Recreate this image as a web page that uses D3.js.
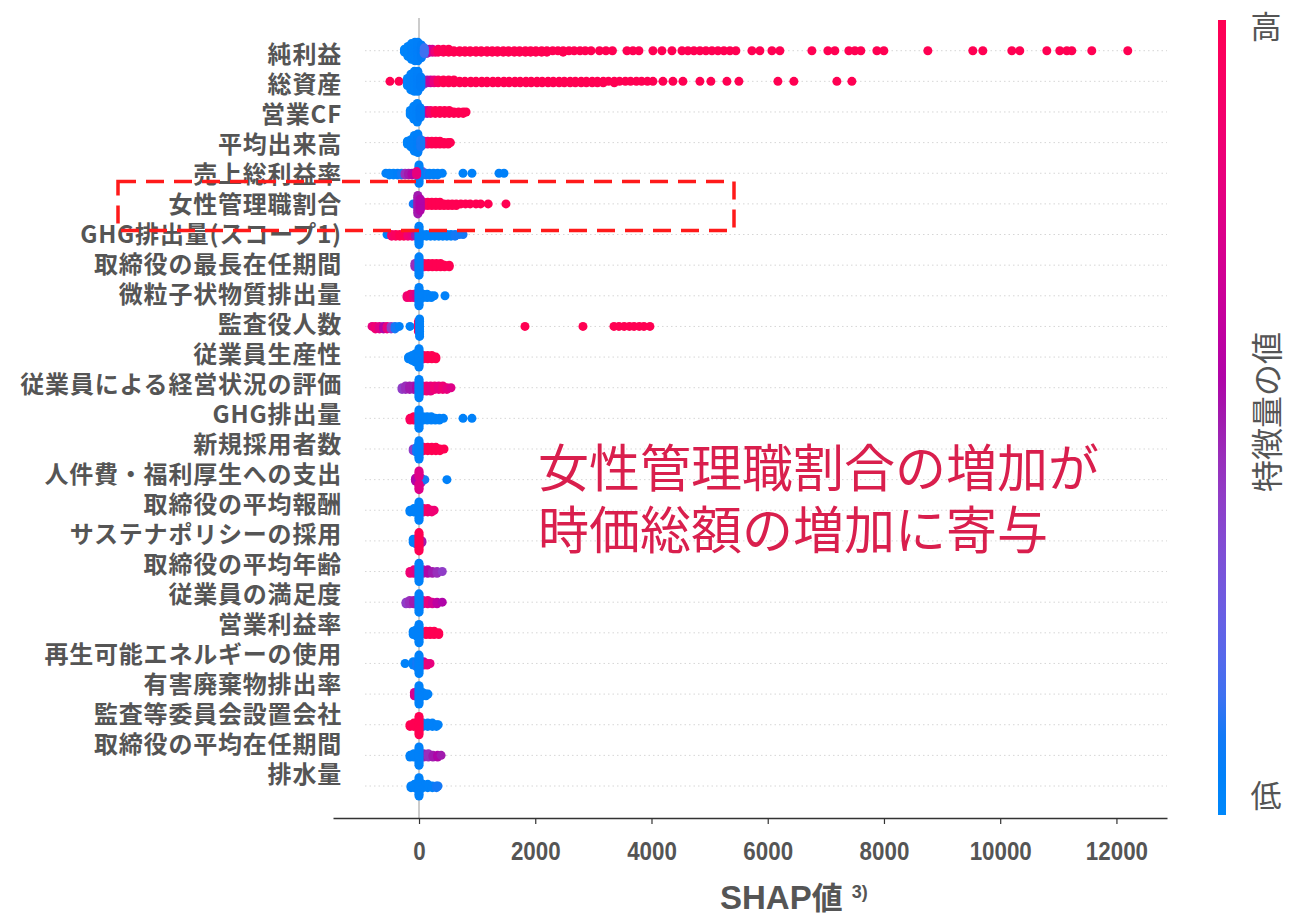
<!DOCTYPE html>
<html>
<head>
<meta charset="utf-8">
<script src="https://cdn.jsdelivr.net/npm/d3@7"></script>
<style>
  body { margin: 0; background: #fff; }
  svg { display: block; }
</style>
</head>
<body>
<svg id="chart" width="1310" height="920"></svg>
<script>
// Feature names, ordered by mean |SHAP| (top to bottom)
const features = [
  "純利益", "総資産", "営業CF", "平均出来高", "売上総利益率", "女性管理職割合",
  "GHG排出量(スコープ1)", "取締役の最長在任期間", "微粒子状物質排出量", "監査役人数",
  "従業員生産性", "従業員による経営状況の評価", "GHG排出量", "新規採用者数",
  "人件費・福利厚生への支出", "取締役の平均報酬", "サステナポリシーの採用",
  "取締役の平均年齢", "従業員の満足度", "営業利益率", "再生可能エネルギーの使用",
  "有害廃棄物排出率", "監査等委員会設置会社", "取締役の平均在任期間", "排水量"
];

const xTicks = [0, 2000, 4000, 6000, 8000, 10000, 12000];

// Observations per feature: [SHAP value, normalised feature value (0 = low, 1 = high), sample count]
const netIncome = [
  [130, 0.4, 4], [180, 0.55, 3], [230, 0.7, 3], [280, 0.85, 2],
  [330, 0.97, 3], [420, 0.98, 3], [510, 1, 3], [600, 1, 2], [700, 1, 2], [790, 1, 2],
  [880, 1, 2], [980, 1, 2], [1070, 1, 2], [1170, 1, 2], [1260, 1, 2], [1350, 1, 2],
  [1450, 1, 2], [1540, 1, 2], [1640, 1, 2], [1730, 1, 2], [1830, 1, 2], [1920, 1, 2],
  [2010, 1, 2], [2110, 1, 2], [2200, 1, 2], [2300, 1, 1], [2390, 1, 1], [2480, 1, 2],
  [2580, 1, 1], [2670, 1, 1], [2770, 1, 1], [2860, 1, 1], [2960, 1, 1],
  [3105, 1], [3216, 1], [3328, 1], [3578, 1], [3681, 1], [3784, 1], [4025, 1], [4180, 1],
  [4352, 1], [4524, 1], [4627, 1], [4730, 1], [4833, 1], [4936, 1], [5040, 1], [5143, 1],
  [5246, 1], [5349, 1], [5452, 1], [5728, 1], [5865, 1], [6072, 1], [6209, 1], [6760, 1],
  [7035, 1], [7155, 1], [7396, 1], [7499, 1], [7602, 1], [7878, 1], [7998, 1], [8755, 1],
  [9529, 1], [9701, 1], [10200, 1], [10337, 1], [10802, 1], [11025, 1], [11146, 1],
  [11232, 1], [11576, 1], [12195, 1],
  [-250, 0.02, 3], [-190, 0.03, 8], [-130, 0.04, 12], [-70, 0.05, 14], [-20, 0.06, 14],
  [40, 0.08, 10], [90, 0.15, 5]
];
const totalAssets = [
  [-500, 1], [-345, 1],
  [80, 0.35, 4], [140, 0.5, 3], [200, 0.65, 3], [260, 0.8, 3],
  [330, 0.95, 3], [420, 1, 3], [510, 1, 3], [600, 1, 3], [700, 1, 2], [790, 1, 2],
  [890, 1, 2], [980, 1, 2], [1080, 1, 2], [1170, 1, 2], [1270, 1, 2], [1360, 1, 2],
  [1460, 1, 2], [1550, 1, 2], [1650, 1, 2], [1740, 1, 2], [1840, 1, 2], [1930, 1, 2],
  [2030, 1, 2], [2120, 1, 2], [2220, 1, 2], [2310, 1, 2], [2410, 1, 2], [2500, 1, 2],
  [2600, 1, 2], [2690, 1, 2], [2790, 1, 2], [2880, 1, 2], [2980, 1, 2], [3070, 1, 2],
  [3170, 1, 2], [3260, 1, 1], [3360, 1, 2], [3450, 1, 1], [3550, 1, 1], [3640, 1, 1],
  [3740, 1, 1], [3830, 1, 1], [3930, 1, 1], [4025, 1, 1],
  [4197, 1], [4369, 1], [4541, 1], [4833, 1], [5022, 1], [5298, 1], [5504, 1],
  [6175, 1], [6450, 1], [7190, 1], [7448, 1],
  [-200, 0.03, 6], [-140, 0.04, 12], [-80, 0.05, 15], [-20, 0.06, 15], [30, 0.08, 8]
];
const operatingCF = [
  [80, 0.45, 3], [140, 0.65, 3], [200, 0.9, 3], [280, 1, 3], [360, 1, 3], [440, 1, 3],
  [520, 1, 3], [600, 1, 2], [680, 1, 2], [760, 1, 2], [810, 1, 1],
  [-150, 0.03, 4], [-90, 0.04, 10], [-30, 0.05, 14], [20, 0.08, 8]
];
const avgVolume = [
  [90, 0.5, 3], [150, 0.85, 3], [220, 1, 3], [290, 1, 3], [360, 1, 3], [430, 1, 2],
  [500, 1, 2], [540, 1, 1],
  [-200, 0.03, 3], [-140, 0.04, 6], [-80, 0.05, 12], [-20, 0.06, 14], [30, 0.1, 6]
];
const grossMargin = [
  [-570, 0.05, 1], [-510, 0.04, 2], [-440, 0.05, 2], [-370, 0.06, 2], [-300, 0.1, 2],
  [-240, 0.45, 2], [-180, 0.5, 2], [-120, 0.55, 2],
  [60, 0.3, 3], [120, 0.1, 2], [180, 0.05, 2], [250, 0.05, 2], [320, 0.05, 2], [400, 0.05, 1],
  [757, 0.05], [911, 0.05], [1376, 0.05], [1462, 0.05],
  [0, 0.05, 12], [-40, 0.8, 3]
];
const womenManagers = [
  [-100, 0.1, 1],
  [80, 0.85, 3], [150, 0.95, 3], [220, 1, 3], [290, 1, 3], [360, 1, 3], [430, 1, 2],
  [500, 1, 2], [570, 1, 2], [640, 1, 2], [720, 1, 1], [800, 1, 1], [880, 1, 1],
  [980, 1], [1060, 1], [1190, 1], [1496, 1],
  [-20, 0.5, 12], [20, 0.55, 8]
];
const ghgScope1 = [
  [-550, 0.05], [-470, 0.9, 2], [-400, 0.95, 2], [-330, 1, 2], [-260, 1, 2], [-190, 0.85, 2],
  [-120, 0.8, 2], [-60, 0.5, 2],
  [60, 0.05, 2], [130, 0.05, 2], [200, 0.05, 2], [270, 0.05, 2], [340, 0.05, 2], [410, 0.05, 2],
  [480, 0.05, 2], [550, 0.05, 2], [620, 0.1, 2], [690, 0.1, 1], [757, 0.1, 1],
  [0, 0.05, 12]
];
const longestTenure = [
  [-70, 0.45, 3],
  [90, 0.9, 3], [160, 1, 3], [230, 1, 3], [300, 1, 3], [370, 1, 3], [440, 1, 2], [520, 1, 2],
  [0, 0.05, 12]
];
const particulates = [
  [-206, 0.85, 2], [-150, 0.9, 3], [-90, 0.8, 3], [-40, 0.7, 3],
  [70, 0.05, 3], [140, 0.05, 3], [210, 0.05, 2], [260, 0.05, 1], [447, 0.05],
  [0, 0.05, 12]
];
const auditors = [
  [-808, 0.8], [-750, 0.85, 2], [-680, 0.75, 2], [-610, 0.55, 2], [-550, 0.8, 2],
  [-480, 0.4, 2], [-413, 0.1, 2], [-340, 0.05, 1], [-155, 0.05, 1],
  [1823, 1], [2821, 1], [3354, 1], [3440, 1], [3530, 1], [3620, 1], [3700, 1], [3790, 1],
  [3870, 1], [3973, 1],
  [-10, 0.9, 5], [10, 0.05, 8]
];
const productivity = [
  [80, 0.9, 3], [150, 1, 3], [220, 1, 3], [290, 1, 2],
  [-180, 0.05, 2], [-120, 0.05, 4], [-60, 0.05, 6], [0, 0.05, 12]
];
const mgmtRating = [
  [-292, 0.4, 2], [-230, 0.45, 3], [-160, 0.5, 3], [-90, 0.5, 3], [-40, 0.55, 3],
  [60, 0.8, 4], [130, 0.85, 4], [200, 0.8, 4], [270, 0.85, 3], [340, 0.8, 3], [410, 0.85, 3],
  [480, 0.8, 2], [550, 0.75, 1],
  [0, 0.05, 12]
];
const ghgTotal = [
  [-155, 0.95, 2], [-90, 1, 3], [-30, 0.9, 3],
  [70, 0.05, 3], [140, 0.05, 3], [210, 0.05, 3], [280, 0.05, 2], [350, 0.05, 2], [420, 0.05, 1],
  [757, 0.05], [911, 0.05],
  [0, 0.05, 12]
];
const newHires = [
  [-100, 0.4, 2],
  [80, 0.9, 3], [150, 1, 3], [220, 1, 3], [290, 1, 3], [360, 1, 2], [430, 1, 1],
  [-40, 0.1, 4], [0, 0.05, 12]
];
const laborCost = [
  [-60, 0.55, 3], [40, 0.45, 4], [100, 0.1, 1], [480, 0.05, 1],
  [0, 0.75, 10]
];
const directorPay = [
  [80, 0.85, 3], [150, 0.9, 3], [220, 0.85, 2], [260, 0.85, 1],
  [-155, 0.05, 2], [-90, 0.05, 3], [0, 0.05, 12]
];
const sustainPolicy = [
  [-100, 0.05, 3], [-40, 0.05, 4], [50, 0.5, 2],
  [0, 1, 12]
];
const directorAge = [
  [-155, 0.85, 2], [-90, 0.8, 3], [-40, 0.75, 3],
  [70, 0.5, 3], [150, 0.55, 3], [230, 0.5, 2], [310, 0.45, 2], [400, 0.4, 1],
  [0, 0.05, 12]
];
const satisfaction = [
  [-224, 0.4, 2], [-160, 0.45, 3], [-90, 0.5, 3],
  [70, 0.75, 3], [150, 0.8, 3], [230, 0.7, 2], [310, 0.6, 2], [400, 0.55, 1],
  [0, 0.05, 12]
];
const opMargin = [
  [120, 1, 3], [190, 1, 3], [260, 1, 3], [340, 1, 2],
  [-100, 0.05, 3], [-40, 0.05, 5], [0, 0.05, 12]
];
const renewables = [
  [-240, 0.05, 1], [80, 0.6, 3], [140, 0.85, 2], [190, 0.8, 1],
  [-100, 0.05, 3], [-40, 0.1, 4], [0, 0.05, 12]
];
const hazardousWaste = [
  [-80, 0.7, 3], [60, 0.05, 3], [120, 0.05, 2], [155, 0.05, 1],
  [0, 0.05, 12]
];
const auditCommittee = [
  [70, 0.05, 3], [150, 0.05, 3], [230, 0.05, 3], [300, 0.05, 2], [330, 0.05, 1],
  [-155, 1, 2], [-90, 1, 3], [0, 1, 12]
];
const avgTenure = [
  [80, 0.5, 3], [160, 0.45, 3], [240, 0.5, 2], [320, 0.55, 2], [380, 0.5, 1],
  [-155, 0.05, 2], [-90, 0.05, 3], [0, 0.05, 12]
];
const wastewater = [
  [-20, 0.55, 3],
  [70, 0.05, 3], [150, 0.05, 3], [230, 0.05, 2], [300, 0.1, 2], [327, 0.1, 1],
  [-138, 0.05, 2], [-80, 0.05, 3], [0, 0.05, 12]
];

const featureRows = [
  netIncome, totalAssets, operatingCF, avgVolume, grossMargin, womenManagers,
  ghgScope1, longestTenure, particulates, auditors, productivity, mgmtRating,
  ghgTotal, newHires, laborCost, directorPay, sustainPolicy, directorAge,
  satisfaction, opMargin, renewables, hazardousWaste, auditCommittee, avgTenure, wastewater
];

const noteLines = ["女性管理職割合の増加が", "時価総額の増加に寄与"];

const svg = d3.select("#chart");

const x = d3.scaleLinear().domain([-1480, 12870]).range([333, 1167]);
const yRow = d3.scalePoint().domain(features).range([50.7, 786]);
const yLabel = d3.scalePoint().domain(features).range([55, 775]);

// Blue -> purple -> red ramp in LCH, lightness dipping toward the middle
function color(t) {
  const L = t < 0.5 ? 54 + (40 - 54) * (t / 0.5) : 40 + (54 - 40) * ((t - 0.5) / 0.5);
  const C = 70 + 20 * t;
  const H = 266.9 + (380.3 - 266.9) * t;
  return d3.lch(L, C, H).formatHex();
}

const textColor = "#555";
const cjk = "'Noto Sans CJK JP', 'Noto Sans', sans-serif";
const latin = "'Liberation Sans', Arial, sans-serif";

// Row guide lines
svg.append("g")
  .selectAll("line")
  .data(features)
  .join("line")
  .attr("x1", 365).attr("x2", 1167)
  .attr("y1", d => yRow(d)).attr("y2", d => yRow(d))
  .attr("stroke", "#d6d6d6")
  .attr("stroke-width", 1)
  .attr("stroke-dasharray", "1.5,3");

// Zero reference line
svg.append("line")
  .attr("x1", x(0)).attr("x2", x(0))
  .attr("y1", 18).attr("y2", 818)
  .attr("stroke", "#999").attr("stroke-width", 1);

// Beeswarm layout: stack samples that share an x-bin, alternating above/below the row
const binPx = 3, maxSpread = 10, r = 4.5;
function swarm(rows) {
  const pts = [];
  rows.forEach(([s, v, n = 1]) => { for (let k = 0; k < n; k++) pts.push({ s, v }); });
  const bins = new Map();
  pts.forEach(p => {
    const b = Math.round(x(p.s) / binPx);
    if (!bins.has(b)) bins.set(b, []);
    bins.get(b).push(p);
  });
  let maxLayer = 1;
  bins.forEach(list => list.forEach((p, i) => {
    p.layer = Math.ceil(i / 2) * (i % 2 ? 1 : -1);
    maxLayer = Math.max(maxLayer, Math.abs(p.layer));
  }));
  const step = Math.min(3, maxSpread / maxLayer);
  pts.forEach(p => { p.dy = p.layer * step; });
  return pts;
}

const dotsG = svg.append("g");
features.forEach((f, i) => {
  const pts = swarm(featureRows[i]);
  dotsG.append("g")
    .selectAll("circle")
    .data(pts)
    .join("circle")
    .attr("cx", d => x(d.s))
    .attr("cy", d => yRow(f) + d.dy)
    .attr("r", r)
    .attr("fill", d => color(d.v));
});

// Feature labels
const yAxis = svg.append("g")
  .attr("transform", "translate(345,0)")
  .call(d3.axisLeft(yLabel).tickSize(0).tickPadding(3));
yAxis.select(".domain").remove();
yAxis.selectAll("text")
  .attr("font-family", cjk)
  .attr("font-size", 24)
  .attr("font-weight", 700)
  .attr("letter-spacing", 0.8)
  .attr("fill", textColor);

// SHAP axis
const xAxis = svg.append("g")
  .attr("transform", "translate(0,818)")
  .call(d3.axisBottom(x).tickValues(xTicks).tickSize(6).tickSizeOuter(0).tickPadding(18).tickFormat(d3.format("d")));
xAxis.select(".domain").attr("stroke", "#333").attr("stroke-width", 1.3);
xAxis.selectAll(".tick line").attr("stroke", "#333").attr("stroke-width", 1.2);
xAxis.selectAll("text")
  .attr("font-family", latin)
  .attr("font-size", 26)
  .attr("font-weight", 700)
  .attr("transform", "scale(0.86,1)")
  .attr("fill", textColor);

const title = svg.append("text")
  .attr("x", 720).attr("y", 909)
  .attr("font-family", latin)
  .attr("font-weight", 700)
  .attr("font-size", 33)
  .attr("fill", textColor);
title.append("tspan").text("SHAP");
title.append("tspan").attr("font-family", cjk).attr("font-size", 31).text("値");
title.append("tspan").attr("dx", 9).attr("dy", -11).attr("font-size", 18).text("3)");

// Colour bar
const defs = svg.append("defs");
const grad = defs.append("linearGradient").attr("id", "featureGrad")
  .attr("x1", 0).attr("y1", 1).attr("x2", 0).attr("y2", 0);
d3.range(0, 1.0001, 0.05).forEach(t => {
  grad.append("stop").attr("offset", t).attr("stop-color", color(t));
});
svg.append("rect")
  .attr("x", 1218).attr("y", 20).attr("width", 8).attr("height", 795)
  .attr("fill", "url(#featureGrad)");

svg.append("text").attr("x", 1266).attr("y", 38)
  .attr("text-anchor", "middle").attr("font-family", cjk).attr("font-size", 31)
  .attr("fill", textColor).text("高");
svg.append("text").attr("x", 1266).attr("y", 807)
  .attr("text-anchor", "middle").attr("font-family", cjk).attr("font-size", 31)
  .attr("fill", textColor).text("低");
svg.append("text")
  .attr("transform", "translate(1279,412) rotate(-90)")
  .attr("text-anchor", "middle").attr("font-family", cjk).attr("font-size", 32)
  .attr("fill", textColor).text("特徴量の値");

// Highlight box around the women-managers row
svg.append("rect")
  .attr("x", 118).attr("y", 181.5).attr("width", 616).attr("height", 49)
  .attr("fill", "none")
  .attr("stroke", "#ff1a1a").attr("stroke-width", 3.5)
  .attr("stroke-dasharray", "18,10");

// Callout text
svg.append("g")
  .selectAll("text")
  .data(noteLines)
  .join("text")
  .attr("x", 538)
  .attr("y", (d, i) => 487 + i * 62)
  .attr("font-family", cjk)
  .attr("font-size", 51)
  .attr("fill", "#d91f4d")
  .text(d => d);
</script>
</body>
</html>
